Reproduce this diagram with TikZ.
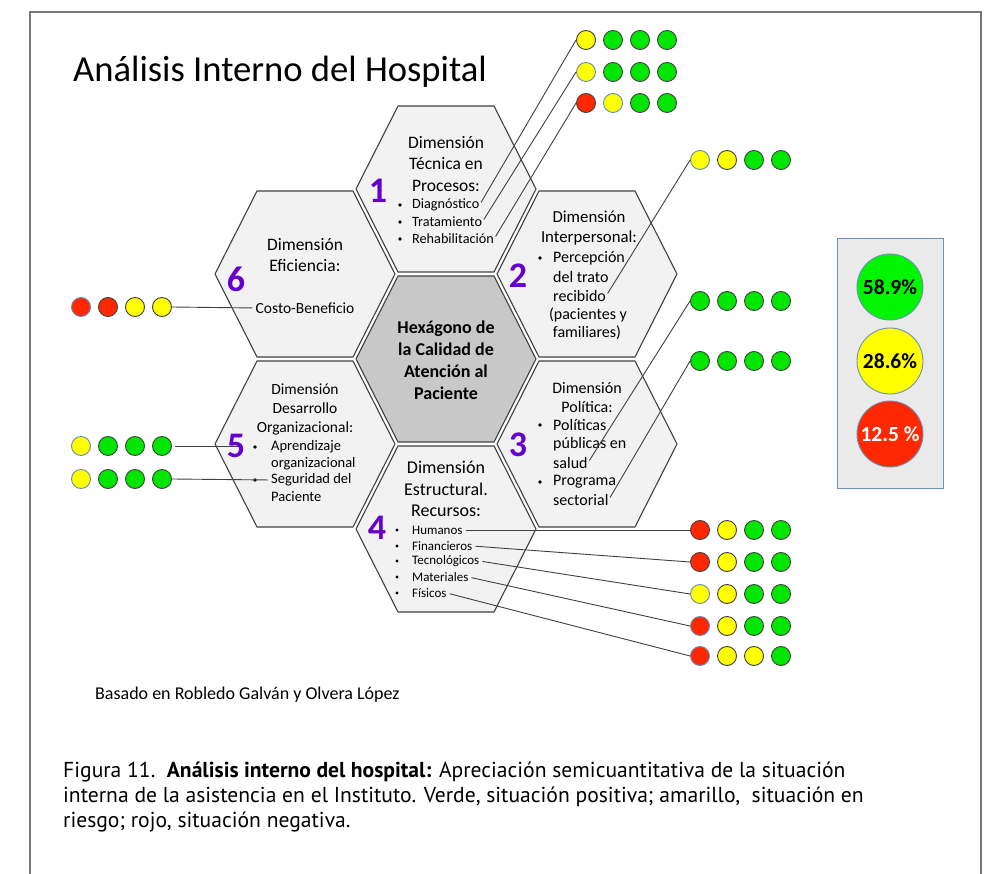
\documentclass[tikz,border=0pt]{standalone}
\usepackage{fontspec}
\setmainfont{Carlito}
\newfontfamily\capfont{PT Sans}
\definecolor{hexfill}{RGB}{242,242,242}
\definecolor{hexmid}{RGB}{200,200,200}
\definecolor{hexline}{RGB}{64,64,64}
\definecolor{numcol}{RGB}{102,0,204}
\definecolor{dgreen}{RGB}{0,230,0}
\definecolor{dyellow}{RGB}{255,255,0}
\definecolor{dred}{RGB}{255,40,0}
\definecolor{dline}{RGB}{64,64,64}
\definecolor{dblue}{RGB}{100,140,185}
\definecolor{legfill}{RGB}{234,234,234}
\definecolor{legline}{RGB}{110,145,185}
\definecolor{lgreen}{RGB}{0,245,0}
\definecolor{framecol}{RGB}{120,120,120}
\newcommand\fs[2]{\fontsize{#1}{#2}\selectfont}
\newcommand\dotrow[4]{\foreach \c [count=\i] in {#4} {\node[\c] (#1\i) at ({#2+27*(\i-1)},#3) {};}}
\begin{document}
\begin{tikzpicture}[x=1pt,y=-1pt,
  hexa/.pic={\draw[draw=hexline,line width=1.1pt,fill=#1] (-90,0) -- (-48,-83) -- (48,-83) -- (90,0) -- (48,83) -- (-48,83) -- cycle;},
  txt/.style={inner sep=0pt,text=black},
  head/.style={txt,align=center},
  bul/.style={circle,fill=black,inner sep=0pt,minimum size=3.6pt},
  num/.style={inner sep=0pt,text=numcol,font=\fs{36}{40}\bfseries},
  dot/.style={circle,minimum size=19pt,inner sep=0pt,draw=dline,line width=0.9pt},
  dG/.style={dot,fill=dgreen},
  dY/.style={dot,fill=dyellow},
  dR/.style={dot,fill=dred},
  dYb/.style={dY,draw=dblue},
  dRb/.style={dR,draw=dblue},
  conn/.style={draw=dline,line width=0.9pt,shorten <=3pt},
  legc/.style={circle,minimum size=66pt,inner sep=0pt,draw=legline,line width=0.9pt,font=\fs{21.5}{24}\bfseries}
]
\useasboundingbox (0,0) rectangle (989,874);
\draw[framecol,line width=1.2pt] (30,874) -- (30,12) -- (981,12) -- (981,874);

% title
\node[txt,anchor=west,font=\fs{36.6}{40}] (title) at (73,72) {Análisis Interno del Hospital};

% hexagons
\pic at (446,359) {hexa=hexmid};
\pic at (446,189) {hexa=hexfill};
\pic at (587,274) {hexa=hexfill};
\pic at (587,444) {hexa=hexfill};
\pic at (446,529) {hexa=hexfill};
\pic at (305,444) {hexa=hexfill};
\pic at (305,274) {hexa=hexfill};

% center
\node[head,font=\fs{18}{22}\bfseries] (center) at (446,360) {Hexágono de\\la Calidad de\\Atención al\\Paciente};

% hex 1
\node[head,font=\fs{17.5}{21.5}] (h1) at (446,164) {Dimensión\\Técnica en\\Procesos:};
\foreach \y in {205,222,239} \node[bul] at (400,\y) {};
\node[txt,anchor=west,font=\fs{14.2}{16}] (diag) at (412,205) {Diagnóstico};
\node[txt,anchor=west,font=\fs{14.2}{16}] (trat) at (412,222) {Tratamiento};
\node[txt,anchor=west,font=\fs{14.2}{16}] (rehab) at (412,239) {Rehabilitación};

% hex 2
\node[head,font=\fs{16.8}{20}] (h2) at (589,228) {Dimensión\\Interpersonal:};
\node[bul] at (540,258) {};
\node[txt,anchor=west,font=\fs{16}{18}] (perc) at (553,258) {Percepción};
\node[txt,anchor=west,font=\fs{16}{18}] (trato) at (553,277) {del trato};
\node[txt,anchor=west,font=\fs{16}{18}] (recib) at (553,296) {recibido};
\node[txt,font=\fs{16}{18}] (pac) at (588,315) {(pacientes y};
\node[txt,font=\fs{16}{18}] (fam) at (587,333) {familiares)};

% hex 3
\node[head,font=\fs{16}{19}] (h3) at (587,397.5) {Dimensión\\Política:};
\foreach \y in {425,482} \node[bul] at (540,\y) {};
\node[txt,anchor=west,font=\fs{16}{18}] (pol) at (553,425) {Políticas};
\node[txt,anchor=west,font=\fs{16}{18}] (pub) at (553,444) {públicas en};
\node[txt,anchor=west,font=\fs{16}{18}] (salud) at (553,463) {salud};
\node[txt,anchor=west,font=\fs{16}{18}] (prog) at (553,482) {Programa};
\node[txt,anchor=west,font=\fs{16}{18}] (sect) at (553,500) {sectorial};

% hex 4
\node[head,font=\fs{18}{21.5}] (h4) at (446,489) {Dimensión\\Estructural.\\Recursos:};
\foreach \y in {530,546,561,577,593} \node[bul,minimum size=3.2pt] at (397,\y) {};
\node[txt,anchor=west,font=\fs{13}{15}] (hum) at (412,530) {Humanos};
\node[txt,anchor=west,font=\fs{13}{15}] (fin) at (412,546) {Financieros};
\node[txt,anchor=west,font=\fs{13}{15}] (tec) at (412,561) {Tecnológicos};
\node[txt,anchor=west,font=\fs{13}{15}] (mat) at (412,577) {Materiales};
\node[txt,anchor=west,font=\fs{13}{15}] (fis) at (412,593) {Físicos};

% hex 5
\node[head,font=\fs{15.5}{19}] (h5) at (305,410) {Dimensión\\Desarrollo\\Organizacional:};
\foreach \y in {447,480} \node[bul] at (255,\y) {};
\node[txt,anchor=west,font=\fs{14.5}{17}] (apr) at (271,447) {Aprendizaje};
\node[txt,anchor=west,font=\fs{14.5}{17}] (org) at (271,463.5) {organizacional};
\node[txt,anchor=west,font=\fs{14.5}{17}] (seg) at (271,480) {Seguridad del};
\node[txt,anchor=west,font=\fs{14.5}{17}] (paci) at (271,497) {Paciente};

% hex 6
\node[head,font=\fs{17.5}{21}] (h6) at (305,255.5) {Dimensión\\Eficiencia:};
\node[txt,font=\fs{15.5}{18}] (costo) at (305,308) {Costo-Beneficio};

% dot rows
\dotrow{A}{586}{40}{dY,dG,dG,dG}
\dotrow{B}{586}{72}{dYb,dG,dG,dG}
\dotrow{C}{586}{103}{dR,dYb,dG,dG}
\dotrow{D}{700}{160}{dYb,dY,dG,dG}
\dotrow{E}{700}{301}{dG,dG,dG,dG}
\dotrow{F}{700}{361}{dG,dG,dG,dG}
\dotrow{P}{700}{530}{dR,dY,dG,dG}
\dotrow{Q}{700}{562}{dR,dY,dG,dG}
\dotrow{R}{700}{594}{dYb,dY,dG,dG}
\dotrow{S}{700}{626}{dRb,dY,dG,dG}
\dotrow{T}{700}{656}{dRb,dY,dY,dG}
\dotrow{L}{81}{307}{dRb,dR,dY,dY}
\dotrow{M}{81}{446}{dYb,dG,dG,dG}
\dotrow{N}{81}{479}{dYb,dG,dG,dG}

% connectors
\draw[conn] (diag.east) -- (A1.west);
\draw[conn] (trat.east) -- (B1.west);
\draw[conn] (rehab.east) -- (C1.west);
\draw[conn] (recib.east) -- (D1.west);
\draw[conn] (salud.east) -- (E1.west);
\draw[conn] (sect.east) -- (F1.west);
\draw[conn] (hum.east) -- (P1.west);
\draw[conn] (fin.east) -- (Q1.west);
\draw[conn] (tec.east) -- (R1.west);
\draw[conn] (mat.east) -- (S1.west);
\draw[conn] (fis.east) -- (T1.west);
\draw[conn] (costo.west) -- (L4.east);
\coordinate (m5e) at (242,446);
\draw[conn] (M4.east) -- (m5e);
\draw[conn] (seg.west) -- (N4.east);

% numbers
\node[num] (n1) at (378,191) {1};
\node[num] (n2) at (518,276) {2};
\node[num] (n3) at (518,445) {3};
\node[num] (n4) at (377,528) {4};
\node[num] (n5) at (236,446) {5};
\node[num] (n6) at (236,279) {6};

% legend
\node[draw=legline,fill=legfill,line width=1pt,minimum width=106pt,minimum height=250pt,inner sep=0pt] (leg) at (890,364) {};
\node[legc,fill=lgreen] (lg) at (890,287) {58.9\%};
\node[legc,fill=dyellow] (ly) at (890,361) {28.6\%};
\node[legc,fill=dred,text=white] (lr) at (890,434) {12.5 \%};

% source and caption
\node[txt,anchor=west,font=\fs{18}{20}] (src) at (95,695) {Basado en Robledo Galván y Olvera López};
\node[txt,anchor=west,align=left,font=\capfont\fs{21.6}{25}] (cap) at (63,797) {Figura 11.\ \ \textbf{Análisis interno del hospital:} Apreciación semicuantitativa de la situación\\interna de la asistencia en el Instituto. Verde, situación positiva; amarillo,\ \ situación en\\riesgo; rojo, situación negativa.};
\end{tikzpicture}
\end{document}
